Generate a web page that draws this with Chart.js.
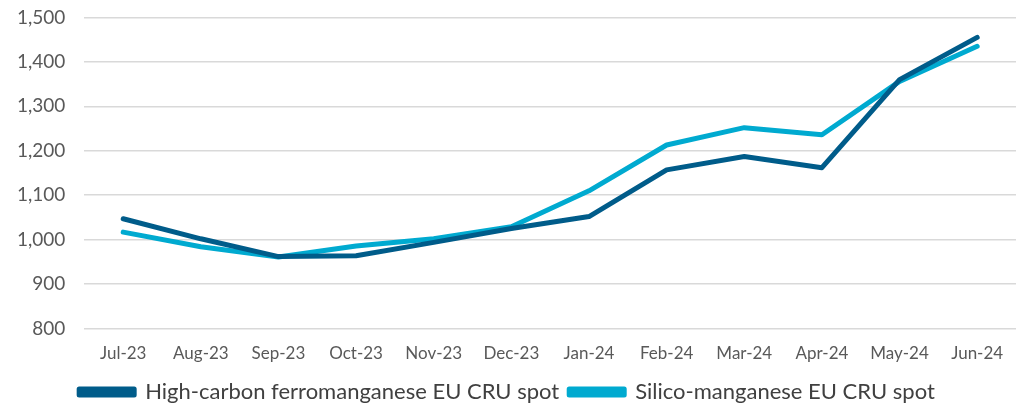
<!DOCTYPE html>
<html>
<head>
<meta charset="utf-8">
<script src="https://cdn.jsdelivr.net/npm/chart.js@4"></script>
<style>
  html, body { margin: 0; padding: 0; background: #fff; overflow: hidden; }
  #wrap { width: 1028px; height: 426px; margin-top: -13px; margin-left: -6px; }
</style>
</head>
<body>
<div id="wrap"><canvas id="priceChart" width="1028" height="426"></canvas></div>
<script>
// Manganese alloy prices, monthly

const months = ['Jul-23', 'Aug-23', 'Sep-23', 'Oct-23', 'Nov-23', 'Dec-23',
  'Jan-24', 'Feb-24', 'Mar-24', 'Apr-24', 'May-24', 'Jun-24'];
const hcFeMn = [1047, 1002, 962, 964, 994, 1025, 1052, 1157, 1187, 1162, 1360, 1455];
const siMn = [1017, 984, 961, 986, 1002, 1029, 1110, 1213, 1252, 1236, 1356, 1435];
const seriesNames = ['High-carbon ferromanganese EU CRU spot', 'Silico-manganese EU CRU spot'];
const yTicks = [800, 900, 1000, 1100, 1200, 1300, 1400, 1500];

const darkBlue = '#005c8a';
const lightBlue = '#00aad0';

window.addEventListener('DOMContentLoaded', () => {
  const ctx = document.getElementById('priceChart');
  new Chart(ctx, {
    type: 'line',
    data: {
      labels: months,
      datasets: [
        { label: seriesNames[0], data: hcFeMn, borderColor: darkBlue, backgroundColor: darkBlue,
          borderWidth: 5, pointRadius: 0, tension: 0, borderCapStyle: 'round', borderJoinStyle: 'round' },
        { label: seriesNames[1], data: siMn, borderColor: lightBlue, backgroundColor: lightBlue,
          borderWidth: 5, pointRadius: 0, tension: 0, borderCapStyle: 'round', borderJoinStyle: 'round' }
      ]
    },
    options: {
      responsive: false,
      animation: false,
      layout: { padding: { left: 4, right: 6, top: 8, bottom: 0 } },
      plugins: {
        tooltip: { enabled: false },
        legend: {
          position: 'bottom',
          labels: {
            font: { family: 'Lato', size: 22 },
            color: '#404040',
            boxWidth: 55,
            boxHeight: 6,
            padding: 10
          }
        }
      },
      scales: {
        x: {
          offset: true,
          grid: { display: false },
          border: { display: false },
          ticks: { font: { family: 'Lato', size: 17 }, color: '#595959', maxRotation: 0, padding: 7 }
        },
        y: {
          min: 800,
          max: 1500,
          afterBuildTicks: axis => { axis.ticks = yTicks.map(v => ({ value: v })); },
          grid: { color: '#d9d9d9', lineWidth: 1.5, drawTicks: false },
          border: { display: false },
          ticks: {
            font: { family: 'Lato', size: 19 },
            color: '#595959',
            padding: 19,
            callback: v => v.toLocaleString('en-US')
          }
        }
      }
    }
  });
});
</script>
</body>
</html>
